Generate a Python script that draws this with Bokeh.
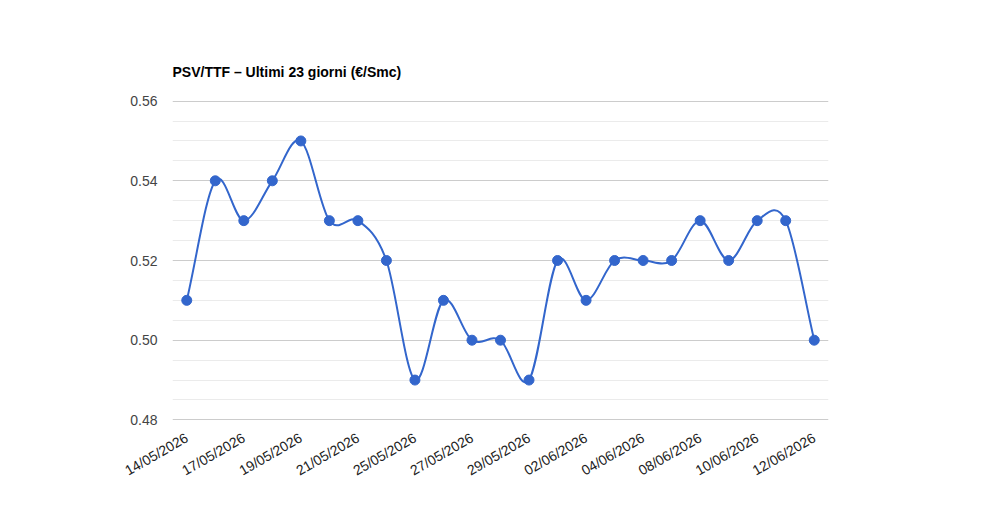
from bokeh.plotting import figure
from bokeh.models import FixedTicker, Range1d, PrintfTickFormatter
from bokeh.embed import file_html
from bokeh.resources import INLINE
import numpy as np

dates = ["14/05/2026", "15/05/2026", "17/05/2026", "18/05/2026", "19/05/2026",
         "20/05/2026", "21/05/2026", "22/05/2026", "25/05/2026", "26/05/2026",
         "27/05/2026", "28/05/2026", "29/05/2026", "01/06/2026", "02/06/2026",
         "03/06/2026", "04/06/2026", "05/06/2026", "08/06/2026", "09/06/2026",
         "10/06/2026", "11/06/2026", "12/06/2026"]
prices = [0.51, 0.54, 0.53, 0.54, 0.55, 0.53, 0.53, 0.52, 0.49, 0.51,
          0.50, 0.50, 0.49, 0.52, 0.51, 0.52, 0.52, 0.52, 0.53, 0.52,
          0.53, 0.53, 0.50]
y_ticks = [0.48, 0.50, 0.52, 0.54, 0.56]
title_text = "PSV/TTF \u2013 Ultimi 23 giorni (\u20ac/Smc)"

x = np.arange(len(prices), dtype=float)
y = np.array(prices)

# Catmull-Rom tangents -> cubic Bezier control points (smooth "function" curve)
m = np.zeros_like(y)
m[1:-1] = (y[2:] - y[:-2]) / 2.0
m[0] = y[1] - y[0]
m[-1] = y[-1] - y[-2]

p = figure(width=1000, height=520, output_backend="svg", toolbar_location=None,
           x_range=Range1d(-0.5, len(prices) - 0.5), y_range=Range1d(0.47985, 0.56015),
           min_border_left=172, min_border_right=172, min_border_top=100,
           min_border_bottom=100)
p.outline_line_color = None
p.background_fill_color = "white"
p.border_fill_color = "white"

p.title.text = title_text
p.title.text_font = "Liberation Sans"
p.title.text_font_size = "14px"
p.title.text_font_style = "bold"
p.title.text_color = "#000000"
p.title.align = "left"
p.title.standoff = 42

p.bezier(x0=x[:-1], y0=y[:-1], x1=x[1:], y1=y[1:],
         cx0=x[:-1] + 1/3, cy0=y[:-1] + m[:-1] / 3,
         cx1=x[1:] - 1/3, cy1=y[1:] - m[1:] / 3,
         line_color="#3366cc", line_width=2)
p.scatter(x, y, size=10, fill_color="#3366cc", line_color="#3366cc")

minor = [round(v, 3) for v in np.arange(0.48, 0.5601, 0.005) if round(v, 3) not in y_ticks]
p.yaxis.ticker = FixedTicker(ticks=y_ticks, minor_ticks=minor)
p.yaxis.formatter = PrintfTickFormatter(format="%.2f")
p.yaxis.axis_line_color = None
p.yaxis.major_tick_line_color = None
p.yaxis.minor_tick_line_color = None
p.yaxis.major_label_standoff = 9
p.yaxis.major_label_text_font = "Liberation Sans"
p.yaxis.major_label_text_font_size = "14px"
p.yaxis.major_label_text_color = "#444444"

xt = list(range(0, len(dates), 2))
p.xaxis.ticker = FixedTicker(ticks=xt)
p.xaxis.major_label_overrides = {i: dates[i] for i in xt}
p.xaxis.major_label_orientation = np.pi / 6
p.xaxis.axis_line_color = None
p.xaxis.major_tick_line_color = None
p.xaxis.minor_tick_line_color = None
p.xaxis.major_label_standoff = 10
p.xaxis.major_label_text_font = "Liberation Sans"
p.xaxis.major_label_text_font_size = "14px"
p.xaxis.major_label_text_color = "#222222"

p.xgrid.grid_line_color = None
p.ygrid.grid_line_color = "#cccccc"
p.ygrid.minor_grid_line_color = "#ebebeb"
p.ygrid.level = "underlay"

open("out.html", "w").write(file_html(p, INLINE))
